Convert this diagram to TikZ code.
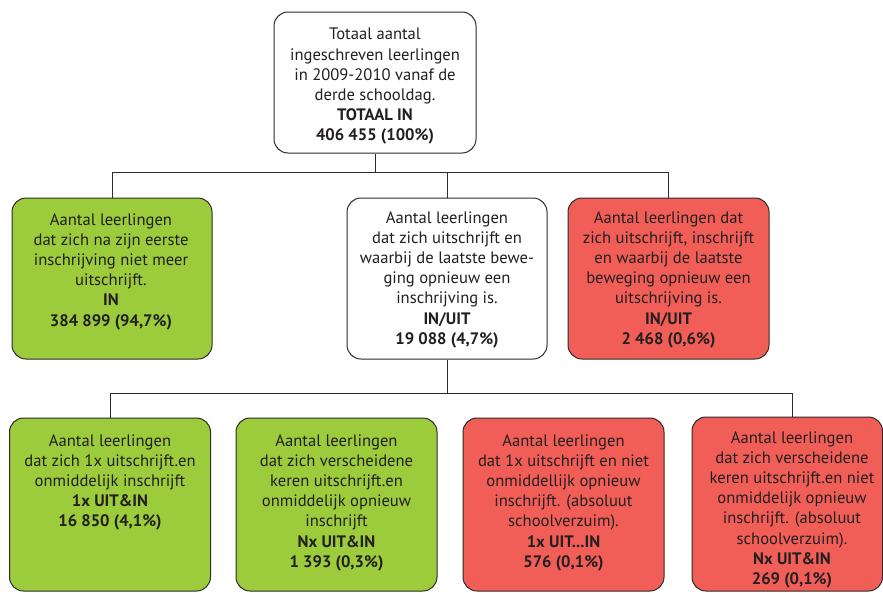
\documentclass[tikz,border=0pt]{standalone}
\usepackage{fontspec}
\setmainfont{PT Sans}
\definecolor{linec}{HTML}{2B2B2B}
\definecolor{textc}{HTML}{231F20}
\definecolor{greenf}{HTML}{9CCB3B}
\definecolor{redf}{HTML}{F15E57}
\begin{document}
\begin{tikzpicture}[x=1pt,y=-1pt,
  box/.style={draw=linec, line width=1pt, rounded corners=14pt, inner sep=0pt},
  txt/.style={anchor=north, align=center, inner sep=0pt, text=textc,
              font=\fontsize{16.6}{20.2}\selectfont},
  conn/.style={draw=linec, line width=1pt}]
\useasboundingbox (0,0) rectangle (883,592);

% boxes
\node[box, fill=white, minimum width=202pt, minimum height=141pt] (top) at (375,82.5) {};
\node[box, fill=greenf, minimum width=200pt, minimum height=161pt] (g1) at (112,278.5) {};
\node[box, fill=white, minimum width=200pt, minimum height=161pt] (w1) at (447,278.5) {};
\node[box, fill=redf, minimum width=201pt, minimum height=161pt] (r1) at (668.5,278.5) {};

\node[box, fill=greenf, minimum width=201pt, minimum height=173pt] (g2a) at (110,504.5) {};
\node[box, fill=greenf, minimum width=201pt, minimum height=173pt] (g2b) at (336.5,504.5) {};
\node[box, fill=redf, minimum width=201pt, minimum height=173pt] (r2a) at (563.5,504.5) {};
\node[box, fill=redf, minimum width=190.5pt, minimum height=174pt] (r2b) at (787.25,504) {};

% texts
\node[txt] (ttop) at (375,28) {Totaal aantal\\ingeschreven leerlingen\\in 2009-2010 vanaf de\\derde schooldag.\\\textbf{TOTAAL IN}\\\textbf{406 455 (100\%)}};
\node[txt] (tg1) at (111,213) {Aantal leerlingen\\dat zich na zijn eerste\\inschrijving niet meer\\uitschrijft.\\\textbf{IN}\\\textbf{384 899 (94,7\%)}};
\node[txt] (tw1) at (447,211) {Aantal leerlingen\\dat zich uitschrijft en\\waarbij de laatste bewe-\\ging opnieuw een\\inschrijving is.\\\textbf{IN/UIT}\\\textbf{19 088 (4,7\%)}};
\node[txt] (tr1) at (668.5,211) {Aantal leerlingen dat\\zich uitschrijft, inschrijft\\en waarbij de laatste\\beweging opnieuw een\\uitschrijving is.\\\textbf{IN/UIT}\\\textbf{2 468 (0,6\%)}};

\node[txt] (tg2a) at (110,434) {Aantal leerlingen\\dat zich 1x uitschrijft.en\\onmiddelijk inschrijft\\\textbf{1x UIT\&IN}\\\textbf{16 850 (4,1\%)}};
\node[txt] (tg2b) at (336.5,434) {Aantal leerlingen\\dat zich verscheidene\\keren uitschrijft.en\\onmiddelijk opnieuw\\inschrijft\\\textbf{Nx UIT\&IN}\\\textbf{1 393 (0,3\%)}};
\node[txt] (tr2a) at (563.5,434) {Aantal leerlingen\\dat 1x uitschrijft en niet\\onmiddellijk opnieuw\\inschrijft. (absoluut\\schoolverzuim).\\\textbf{1x UIT...IN}\\\textbf{576 (0,1\%)}};
\node[txt] (tr2b) at (792,431) {Aantal leerlingen\\dat zich verscheidene\\keren uitschrijft.en niet\\onmiddelijk opnieuw\\inschrijft. (absoluut\\schoolverzuim).\\\textbf{Nx UIT\&IN}\\\textbf{269 (0,1\%)}};

% connectors
\coordinate (bus1) at (0,172.5);
\coordinate (bus2) at (0,393);
\draw[conn] (top.south) -- (top.south |- bus1);
\draw[conn] (g1.north) -- (g1.north |- bus1) -- (r1.north |- bus1) -- (r1.north);
\draw[conn] (w1.north) -- (w1.north |- bus1);
\draw[conn] (w1.south) -- (w1.south |- bus2);
\draw[conn] (g2a.north) -- (g2a.north |- bus2) -- (tr2b.north |- bus2) -- (tr2b.north |- r2b.north);
\end{tikzpicture}
\end{document}
